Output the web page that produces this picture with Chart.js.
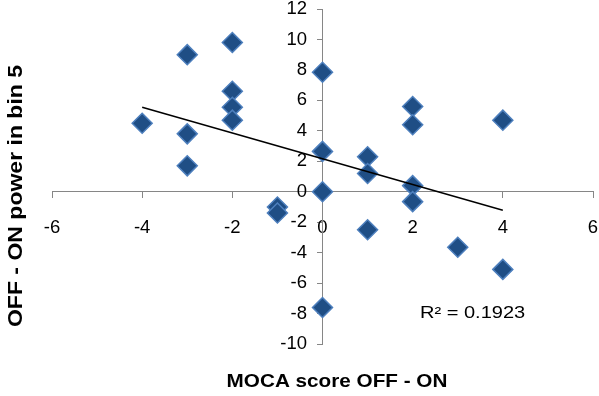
<!DOCTYPE html>
<html>
<head>
<meta charset="utf-8">
<script src="https://cdn.jsdelivr.net/npm/chart.js@4/dist/chart.umd.min.js"></script>
<style>
  html, body { margin: 0; padding: 0; background: #fff; }
  #wrap { width: 599px; height: 396px; position: relative; }
</style>
</head>
<body>
<div id="wrap"><canvas id="c" width="599" height="396"></canvas></div>
<script>
// ---- data ----
const mocaDiff = [-4, -3, -3, -3, -2, -2, -2, -2, -1, -1, 0, 0, 0, 0, 1, 1, 1, 2, 2, 2, 2, 3, 4, 4];
const powerDiff = [4.5, 9.0, 3.8, 1.7, 9.8, 6.6, 5.55, 4.7, -1.0, -1.4, 7.85, 2.65, 0, -7.6, 2.3, 1.2, -2.5, 5.6, 4.4, 0.4, -0.65, -3.65, 4.7, -5.1];
const xTitle = 'MOCA score OFF - ON';
const yTitle = 'OFF - ON power in bin 5';
const r2Label = 'R\u00B2 = 0.1923';
const xMin = -6, xMax = 6, yMin = -10, yMax = 12, tickStep = 2;

// least-squares trend line from the data
const n = mocaDiff.length;
const mx = mocaDiff.reduce((a, b) => a + b, 0) / n;
const my = powerDiff.reduce((a, b) => a + b, 0) / n;
let sxy = 0, sxx = 0;
for (let i = 0; i < n; i++) { sxy += (mocaDiff[i] - mx) * (powerDiff[i] - my); sxx += (mocaDiff[i] - mx) ** 2; }
const slope = sxy / sxx, intercept = my - slope * mx;
const xLo = Math.min(...mocaDiff), xHi = Math.max(...mocaDiff);
const trend = [{x: xLo, y: intercept + slope * xLo}, {x: xHi, y: intercept + slope * xHi}];

const points = mocaDiff.map((x, i) => ({x, y: powerDiff[i]}));

function stretchedText(ctx, text, x, y, font, sx, rot) {
  ctx.save();
  ctx.translate(x, y);
  if (rot) ctx.rotate(rot);
  ctx.scale(sx, 1);
  ctx.font = font;
  ctx.fillStyle = '#000';
  ctx.textAlign = 'center';
  ctx.textBaseline = 'middle';
  ctx.fillText(text, 0, 0);
  ctx.restore();
}

const textPlugin = {
  id: 'textPlugin',
  afterDraw(chart) {
    const ctx = chart.ctx;
    const xs = chart.scales.x, ys = chart.scales.y;
    stretchedText(ctx, xTitle, 337, 382, 'bold 17.7px "Liberation Sans", Arial, sans-serif', 1.17, 0);
    stretchedText(ctx, yTitle, 16.5, 196, 'bold 19.5px "Liberation Sans", Arial, sans-serif', 1.18, -Math.PI / 2);
    stretchedText(ctx, r2Label, xs.getPixelForValue(3.33), ys.getPixelForValue(-7.98), '16.3px "Liberation Sans", Arial, sans-serif', 1.23, 0);
  }
};

const noPad = (s) => { s.paddingLeft = 0; s.paddingRight = 0; s.paddingTop = 0; s.paddingBottom = 0; };

new Chart(document.getElementById('c'), {
  type: 'scatter',
  data: {
    datasets: [
      {
        type: 'line',
        data: trend,
        borderColor: '#000',
        borderWidth: 1.5,
        pointRadius: 0,
        fill: false,
        order: 1
      },
      {
        data: points,
        pointStyle: 'rectRot',
        pointRadius: 10,
        pointHoverRadius: 10,
        backgroundColor: '#1f4e85',
        borderColor: '#4d7fbd',
        borderWidth: 1.5,
        order: 2
      }
    ]
  },
  options: {
    responsive: false,
    animation: false,
    layout: { autoPadding: false, padding: { left: 52, right: 6, top: 9, bottom: 52 } },
    plugins: { legend: { display: false }, tooltip: { enabled: false } },
    scales: {
      x: {
        type: 'linear',
        min: xMin, max: xMax,
        position: { y: 0 },
        afterFit: noPad,
        grid: { drawOnChartArea: false, drawTicks: true, tickLength: 6, color: '#868686' },
        border: { color: '#868686', width: 1 },
        ticks: { stepSize: tickStep, color: '#000', padding: 19, maxRotation: 0,
                 font: { family: '"Liberation Sans", Arial, sans-serif', size: 18.5 } }
      },
      y: {
        type: 'linear',
        min: yMin, max: yMax,
        position: { x: 0 },
        afterFit: noPad,
        grid: { drawOnChartArea: false, drawTicks: true, tickLength: 5, color: '#868686' },
        border: { color: '#868686', width: 1 },
        ticks: { stepSize: tickStep, color: '#000',
                 callback: (v) => v + '\u2007 ',
                 font: { family: '"Liberation Sans", Arial, sans-serif', size: 18.5 } }
      }
    }
  },
  plugins: [textPlugin]
});
</script>
</body>
</html>
